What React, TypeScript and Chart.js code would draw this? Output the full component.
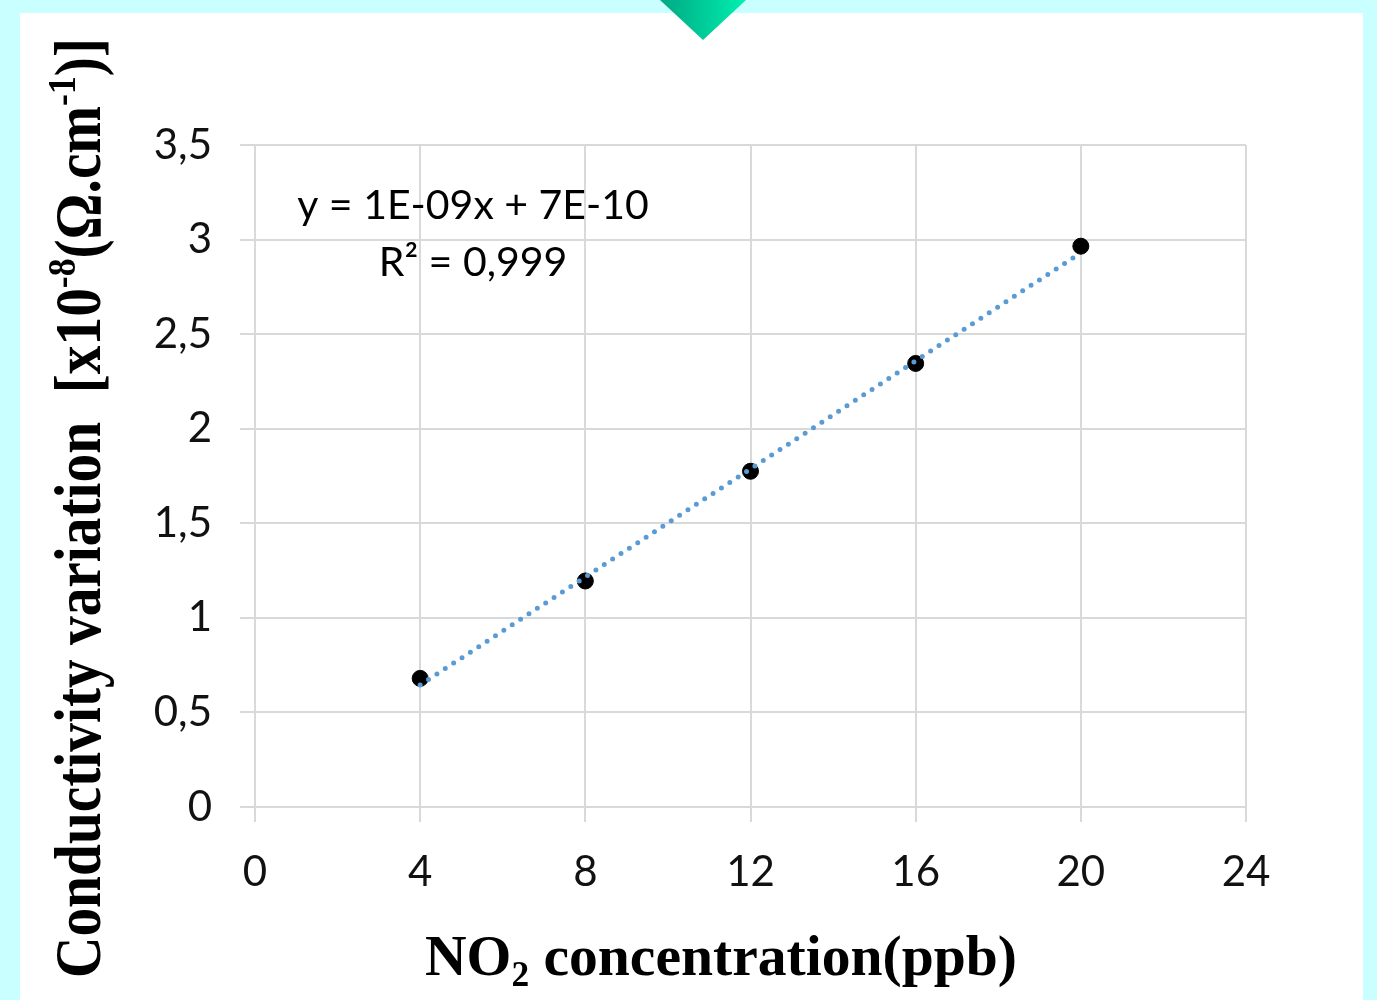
import React, { useEffect, useRef } from "react";
import { Chart, registerables } from "chart.js";

Chart.register(...registerables);

// ---- data ----
const concentrations = [4, 8, 12, 16, 20];
const conductivity = [0.68, 1.195, 1.775, 2.345, 2.965];
const trendX = [4, 20];
const trendY = [0.645, 2.93];
const xTickValues = [0, 4, 8, 12, 16, 20, 24];
const yTickValues = [0, 0.5, 1, 1.5, 2, 2.5, 3, 3.5];
const equationLines = ["y = 1E-09x + 7E-10", "R² = 0,999"];
const yTitleParts: [string, string][] = [
  ["Conductivity variation  [x10", "n"],
  ["-8", "sup"],
  ["(Ω.cm", "n"],
  ["-1", "sup"],
  [")]", "n"],
];
const xTitleParts: [string, string][] = [
  ["NO", "n"],
  ["2", "sub"],
  [" concentration(ppb)", "n"],
];

type Part = [string, string];

function drawRich(
  ctx: CanvasRenderingContext2D,
  parts: Part[],
  size: number,
  family: string,
  targetWidth: number
) {
  const fontFor = (k: string) =>
    `bold ${k === "n" ? size : Math.round(size * 0.62)}px ${family}`;
  let total = 0;
  for (const [t, k] of parts) {
    ctx.font = fontFor(k);
    total += ctx.measureText(t).width;
  }
  const sx = targetWidth / total;
  ctx.scale(sx, 1);
  let x = 0;
  for (const [t, k] of parts) {
    ctx.font = fontFor(k);
    const dy = k === "sup" ? -size * 0.38 : k === "sub" ? size * 0.2 : 0;
    ctx.fillText(t, x, dy);
    x += ctx.measureText(t).width;
  }
}

const overlayPlugin = {
  id: "overlay",
  afterDraw(chart: any) {
    const ctx: CanvasRenderingContext2D = chart.ctx;
    const xs = chart.scales.x;
    const ys = chart.scales.y;
    ctx.save();
    ctx.fillStyle = "#000";
    ctx.textBaseline = "alphabetic";
    ctx.textAlign = "left";
    // y axis title (rotated)
    ctx.save();
    ctx.translate(100, 978);
    ctx.rotate(-Math.PI / 2);
    drawRich(ctx, yTitleParts, 66, '"Liberation Serif", "Times New Roman", serif', 940);
    ctx.restore();
    // x axis title
    ctx.save();
    ctx.translate(425, 975);
    drawRich(ctx, xTitleParts, 57, '"Liberation Serif", "Times New Roman", serif', 592);
    ctx.restore();
    // regression equation
    ctx.font = '41px Lato, "Open Sans", sans-serif';
    ctx.textAlign = "center";
    ctx.textBaseline = "middle";
    const cx = xs.getPixelForValue(5.28);
    ctx.fillText(equationLines[0], cx, ys.getPixelForValue(3.18));
    ctx.fillText(equationLines[1], cx, ys.getPixelForValue(2.875));
    ctx.restore();
  },
};

export default function App() {
  const ref = useRef<HTMLCanvasElement>(null);
  useEffect(() => {
    if (!ref.current) return;
    const grid = {
      color: "#d9d9d9",
      lineWidth: 2,
      tickLength: 15,
      drawTicks: true,
      tickColor: "#d9d9d9",
    };
    const chart = new Chart(ref.current, {
      type: "scatter",
      data: {
        datasets: [
          {
            type: "line",
            label: "trend",
            data: trendX.map((x, i) => ({ x, y: trendY[i] })),
            borderColor: "#5b9bd5",
            borderWidth: 5,
            borderDash: [0, 10],
            borderCapStyle: "round",
            pointRadius: 0,
            fill: false,
          } as any,
          {
            label: "data",
            data: concentrations.map((x, i) => ({ x, y: conductivity[i] })),
            backgroundColor: "#000",
            borderColor: "#000",
            pointRadius: 8,
            pointBorderWidth: 1,
          },
        ],
      },
      options: {
        responsive: false,
        animation: false,
        layout: { padding: { left: 0, top: 145, right: 131, bottom: 0 } },
        plugins: { legend: { display: false }, tooltip: { enabled: false } },
        scales: {
          x: {
            type: "linear",
            min: 0,
            max: 24,
            afterBuildTicks: (s: any) => {
              s.ticks = xTickValues.map((v) => ({ value: v }));
            },
            afterFit: (s: any) => {
              s.height = 193;
            },
            grid,
            border: { color: "#d9d9d9", width: 2 },
            ticks: {
              color: "#111",
              padding: 25,
              font: { family: 'Lato, "Open Sans", sans-serif', size: 42 },
              maxRotation: 0,
            },
          },
          y: {
            type: "linear",
            min: 0,
            max: 3.5,
            afterBuildTicks: (s: any) => {
              s.ticks = yTickValues.map((v) => ({ value: v }));
            },
            afterFit: (s: any) => {
              s.width = 255;
            },
            grid,
            border: { color: "#d9d9d9", width: 2 },
            ticks: {
              color: "#111",
              padding: 28,
              font: { family: 'Lato, "Open Sans", sans-serif', size: 42 },
              callback: (v: any) => String(v).replace(".", ","),
            },
          },
        },
      },
      plugins: [overlayPlugin],
    });
    return () => chart.destroy();
  }, []);

  return (
    <div
      style={{
        position: "fixed",
        left: 0,
        top: 0,
        width: 1377,
        height: 1000,
        background: "#c9ffff",
        overflow: "hidden",
      }}
    >
      <div
        style={{
          position: "absolute",
          left: 20,
          top: 13,
          width: 1343,
          height: 1000,
          background: "#ffffff",
        }}
      />
      <div
        style={{
          position: "absolute",
          left: 660,
          top: 0,
          width: 86,
          height: 40,
          background: "linear-gradient(90deg, #00a884 0%, #00c896 45%, #00f0b0 100%)",
          clipPath: "polygon(0 0, 100% 0, 50% 100%)",
          filter: "drop-shadow(0 2px 2px rgba(0,0,0,0.3))",
        }}
      />
      <canvas
        ref={ref}
        width={1377}
        height={1000}
        style={{ position: "absolute", left: 0, top: 0 }}
      />
    </div>
  );
}
